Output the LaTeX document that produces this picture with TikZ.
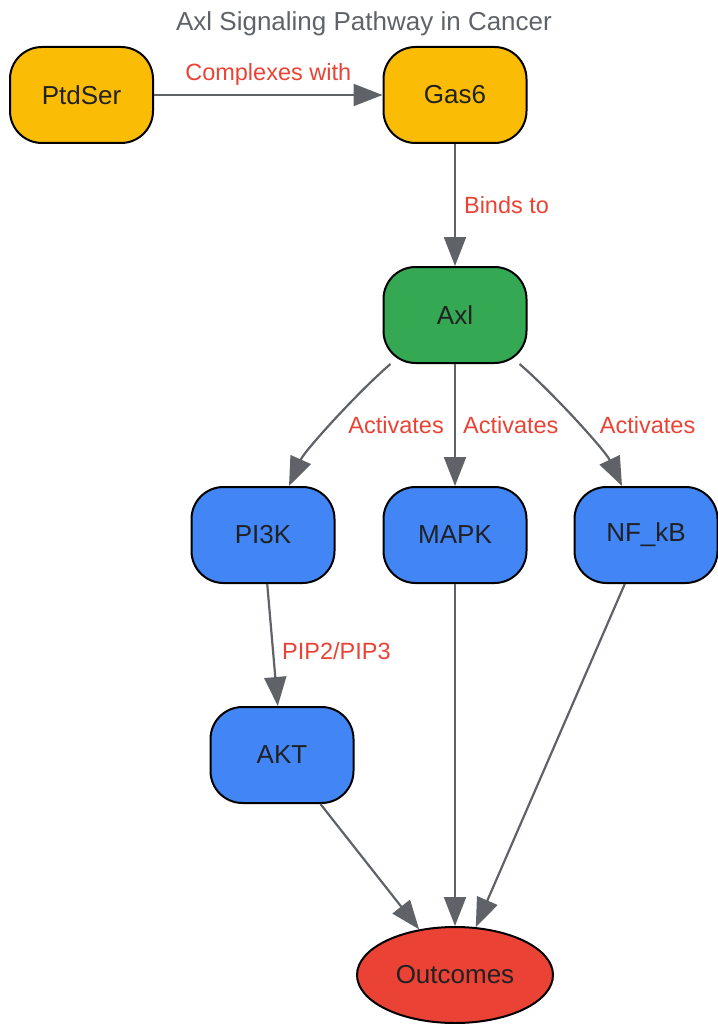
\documentclass[tikz,border=0pt]{standalone}
\usepackage{fontspec}
\setmainfont{Liberation Sans}
\usetikzlibrary{arrows.meta,shapes.geometric}
\definecolor{gyellow}{HTML}{FBBC05}
\definecolor{ggreen}{HTML}{34A853}
\definecolor{gblue}{HTML}{4285F4}
\definecolor{gred}{HTML}{EA4335}
\definecolor{ggray}{HTML}{5F6368}
\definecolor{gtext}{HTML}{202124}
\tikzset{
  box/.style={draw=black, line width=2pt, rounded corners=32pt, minimum width=143pt, minimum height=96pt, inner sep=0pt, text=gtext, font=\fontsize{26}{30}\selectfont},
  oval/.style={draw=black, line width=2pt, ellipse, minimum width=196pt, minimum height=96pt, inner sep=0pt, text=gtext, font=\fontsize{26}{30}\selectfont},
  edge/.style={draw=ggray, line width=2.2pt, -{Triangle[length=29pt,width=22pt]}},
  lbl/.style={text=gred, font=\fontsize{23.5}{28}\selectfont, inner sep=0pt},
}
\begin{document}
\begin{tikzpicture}[x=1pt,y=-1pt]
\useasboundingbox (0,0) rectangle (717,1024);
\node[text=ggray, font=\fontsize{26}{30}\selectfont, anchor=base, inner sep=0pt] (title) at (364,31) {Axl Signaling Pathway in Cancer};
\node[box, fill=gyellow] (ptdser) at (81.5,95) {PtdSer};
\node[box, fill=gyellow] (gas6) at (455,95) {Gas6};
\node[box, fill=ggreen] (axl) at (455,315) {Axl};
\node[box, fill=gblue] (pi3k) at (263,535) {PI3K};
\node[box, fill=gblue] (mapk) at (455,535) {MAPK};
\node[box, fill=gblue] (nfkb) at (646,535) {NF\_kB};
\node[box, fill=gblue] (akt) at (282,755) {AKT};
\node[oval, fill=gred] (out) at (455,975) {Outcomes};

\draw[edge] (ptdser.east) -- node[lbl, midway, anchor=base, yshift=14pt] {Complexes with} (gas6.west);
\draw[edge] (gas6.south) -- node[lbl, midway, anchor=west, xshift=8pt] {Binds to} (axl.north);
\draw[edge] ([xshift=8pt]axl.south west) .. controls (360,390) and (305,450) .. node[lbl, pos=0.5, anchor=west, xshift=13pt, yshift=-4pt] {Activates} ([xshift=26pt]pi3k.north);
\draw[edge] (axl.south) -- node[lbl, midway, anchor=west, xshift=7pt] {Activates} (mapk.north);
\draw[edge] ([xshift=-8pt]axl.south east) .. controls (550,390) and (605,450) .. node[lbl, pos=0.5, anchor=west, xshift=23pt, yshift=-4pt] {Activates} ([xshift=-24pt]nfkb.north);
\draw[edge] (pi3k) -- node[lbl, pos=0.55, anchor=west, xshift=8pt] {PIP2/PIP3} (akt);
\draw[edge] (akt) -- (out);
\draw[edge] (mapk) -- (out);
\draw[edge] (nfkb) -- (out);
\end{tikzpicture}
\end{document}
